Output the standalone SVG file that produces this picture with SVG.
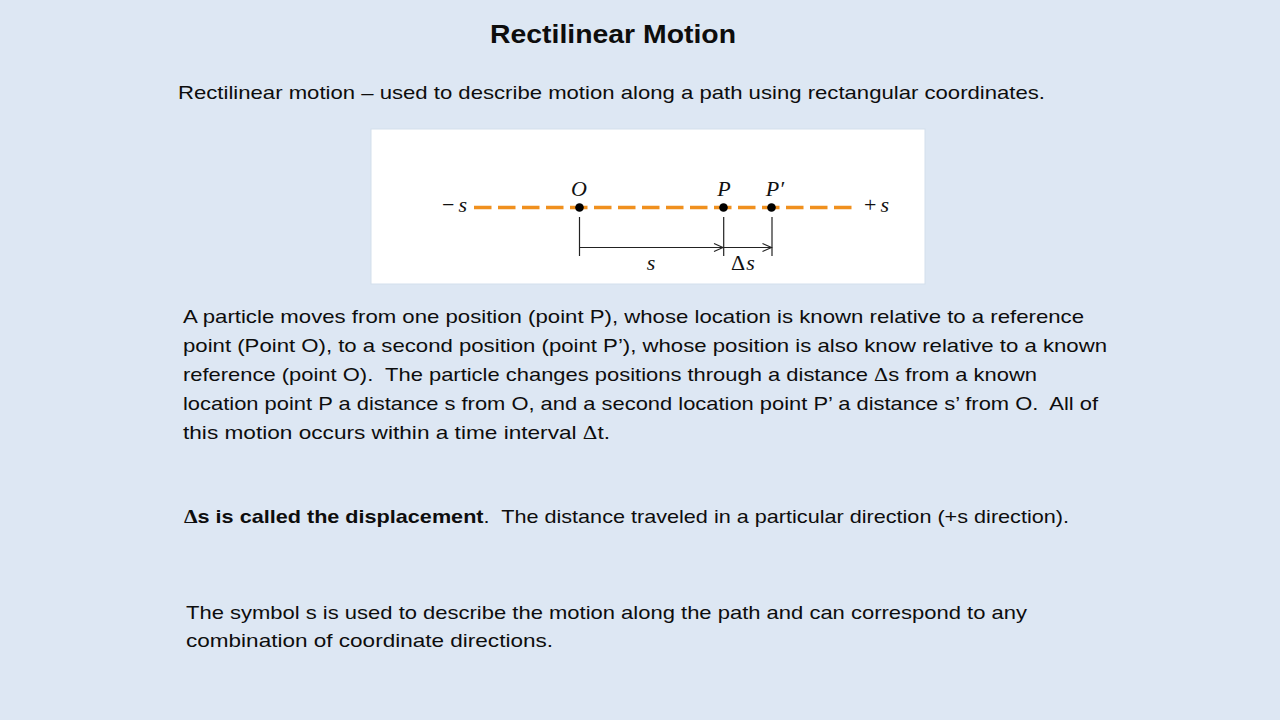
<svg xmlns="http://www.w3.org/2000/svg" width="1280" height="720" viewBox="0 0 1280 720">
<style>
.bg{fill:#dde7f3}
.t{font-family:"Liberation Sans",Arial,sans-serif;font-size:19px;fill:#0d0d0d}
.ttl{font-family:"Liberation Sans",Arial,sans-serif;font-size:26px;font-weight:bold;fill:#0d0d0d}
.b{font-weight:bold}
.sym{font-family:"Liberation Serif","DejaVu Serif",serif}
.m{font-family:"Liberation Serif","Times New Roman",serif;font-size:22px;fill:#111}
.i{font-style:italic}
.axis{stroke:#f0901e;stroke-width:3.5;stroke-dasharray:17.5 6.5;fill:none}
.dot{fill:#000}
.tick{stroke:#222;stroke-width:1.2;fill:none}
.dim{stroke:#222;stroke-width:1.2;fill:none}
</style>
<defs>
<marker id="open" markerUnits="userSpaceOnUse" markerWidth="12" markerHeight="10" refX="10" refY="5" orient="auto">
<path d="M1,1 L10,5 L1,9" fill="none" stroke="#222" stroke-width="1.1"/>
</marker>
</defs>
<rect class="bg" x="0" y="0" width="1280" height="720"/>

<g id="title">
<text class="ttl" x="490" y="43" textLength="246" lengthAdjust="spacingAndGlyphs">Rectilinear Motion</text>
</g>

<g id="subtitle">
<text class="t" x="178" y="99" textLength="867" lengthAdjust="spacingAndGlyphs">Rectilinear motion – used to describe motion along a path using rectangular coordinates.</text>
</g>

<g id="figure">
<rect x="371" y="129" width="554" height="155" fill="#ffffff" stroke="#d3dfec" stroke-width="1"/>
<line class="axis" x1="474" y1="207.5" x2="855" y2="207.5"/>
<text class="m" x="442" y="212"><tspan>−</tspan><tspan class="i" dx="4">s</tspan></text>
<text class="m" x="864" y="212"><tspan>+</tspan><tspan class="i" dx="4">s</tspan></text>
<g id="node-O">
<circle class="dot" cx="579.5" cy="207.5" r="4.3"/>
<text class="m i" x="579" y="196" text-anchor="middle">O</text>
<line class="tick" x1="579.5" y1="217" x2="579.5" y2="256"/>
</g>
<g id="node-P">
<circle class="dot" cx="723.5" cy="207.5" r="4.3"/>
<text class="m i" x="724" y="196" text-anchor="middle">P</text>
<line class="tick" x1="723.7" y1="217" x2="723.7" y2="256"/>
</g>
<g id="node-Pprime">
<circle class="dot" cx="771.5" cy="207.5" r="4.3"/>
<text class="m i" x="775" y="196" text-anchor="middle">P′</text>
<line class="tick" x1="772" y1="217" x2="772" y2="256"/>
</g>
<g id="connectors">
<line class="dim" x1="579.5" y1="247.5" x2="723" y2="247.5" marker-end="url(#open)"/>
<line class="dim" x1="723.7" y1="247.5" x2="771.5" y2="247.5" marker-end="url(#open)"/>
</g>
<text class="m i" x="651" y="270" text-anchor="middle">s</text>
<text class="m" x="731" y="270"><tspan>Δ</tspan><tspan class="i" dx="1">s</tspan></text>
</g>

<g id="paragraph1">
<text class="t" x="183" y="323" textLength="901" lengthAdjust="spacingAndGlyphs">A particle moves from one position (point P), whose location is known relative to a reference</text>
<text class="t" x="183" y="352" textLength="924" lengthAdjust="spacingAndGlyphs">point (Point O), to a second position (point P’), whose position is also know relative to a known</text>
<text class="t" x="183" y="381" textLength="854" lengthAdjust="spacingAndGlyphs" xml:space="preserve">reference (point O).  The particle changes positions through a distance <tspan class="sym">Δ</tspan>s from a known</text>
<text class="t" x="183" y="410" textLength="915" lengthAdjust="spacingAndGlyphs" xml:space="preserve">location point P a distance s from O, and a second location point P’ a distance s’ from O.  All of</text>
<text class="t" x="183" y="439" textLength="427" lengthAdjust="spacingAndGlyphs">this motion occurs within a time interval <tspan class="sym">Δ</tspan>t.</text>
</g>

<g id="paragraph2">
<text class="t" x="184" y="523" textLength="885" lengthAdjust="spacingAndGlyphs" xml:space="preserve"><tspan class="b"><tspan class="sym">Δ</tspan>s is called the displacement</tspan>.  The distance traveled in a particular direction (+s direction).</text>
</g>

<g id="paragraph3">
<text class="t" x="186" y="619" textLength="841" lengthAdjust="spacingAndGlyphs">The symbol s is used to describe the motion along the path and can correspond to any</text>
<text class="t" x="186" y="647" textLength="367" lengthAdjust="spacingAndGlyphs">combination of coordinate directions.</text>
</g>
</svg>
